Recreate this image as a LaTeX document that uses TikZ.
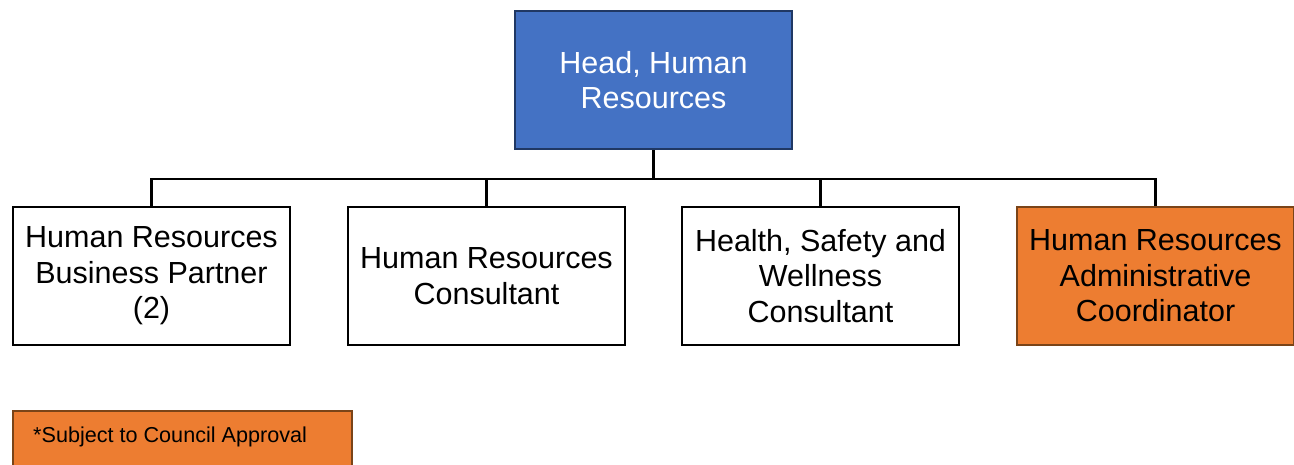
\documentclass[tikz,border=0pt]{standalone}
\usepackage{fontspec}
\setmainfont{Liberation Sans}
\definecolor{hrblue}{HTML}{4472C4}
\definecolor{hrblueb}{HTML}{203864}
\definecolor{hrorange}{HTML}{ED7D31}
\definecolor{hrorangeb}{HTML}{7A4418}
\begin{document}
\begin{tikzpicture}[x=1pt,y=-1pt,
  box/.style={draw=black,line width=2pt,fill=white,minimum width=277pt,minimum height=138pt,inner sep=0pt,align=center,font=\fontsize{30.5}{35.5}\selectfont,anchor=north west},
  headbox/.style={box,fill=hrblue,draw=hrblueb,text=white},
  newbox/.style={box,fill=hrorange,draw=hrorangeb},
  conn/.style={line width=2.6pt}]
\useasboundingbox (0,0) rectangle (1294,464);
\node[headbox] (head) at (514,10) {Head, Human\\Resources};
\node[box] (b1) at (12,206) {Human Resources\\Business Partner\\(2)};
\node[box] (b2) at (347,206) {Human Resources\\Consultant};
\node[box] (b3) at (681,206) {Health, Safety and\\Wellness\\Consultant};
\node[newbox] (b4) at (1016,206) {Human Resources\\Administrative\\Coordinator};
\coordinate (bus) at ([yshift=-29pt]head.south);
\draw[conn] (head.south) -- (bus);
\draw[conn] (b1.north) |- (bus) -| (b4.north);
\draw[conn] (b2.north) -- (b2.north |- bus);
\draw[conn] (b3.north) -- (b3.north |- bus);
\begin{scope}
\clip (0,0) rectangle (1294,464);
\node[draw=hrorangeb,fill=hrorange,line width=1.5pt,minimum width=339pt,minimum height=62pt,inner sep=0pt,anchor=north west] (legend) at (12,410) {};
\end{scope}
\node[anchor=base west,inner sep=0pt,font=\fontsize{21.6}{25}\selectfont] (legtext) at (33,442) {*Subject to Council Approval};
\end{tikzpicture}
\end{document}
